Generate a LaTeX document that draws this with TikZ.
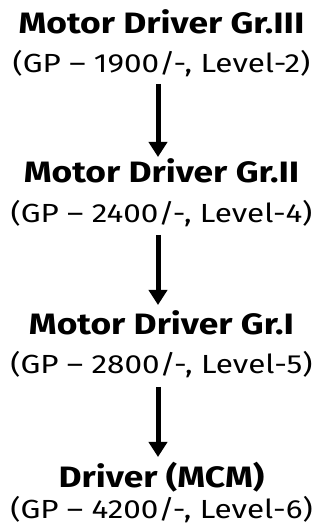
\documentclass[tikz,border=0pt]{standalone}
\usepackage{fontspec}
\setmainfont[FakeStretch=1.2]{Fira Sans}
\usetikzlibrary{arrows.meta}
\begin{document}
\begin{tikzpicture}[x=1pt,y=1pt,
  ttl/.style={anchor=base,inner sep=0pt,font=\fontsize{29.5}{30}\selectfont\bfseries},
  sub/.style={anchor=base,inner sep=0pt,font=\fontsize{26.2}{28}\selectfont},
  arr/.style={line width=5pt,-{Triangle[width=18pt,length=15pt]}}]
\useasboundingbox (0,0) rectangle (320,525);
\node[ttl] (t1) at (161.5,491) {Motor Driver Gr.III};
\node[sub] (s1) at (161.5,452.7) {(GP – 1900/-, Level-2)};
\node[ttl] (t2) at (161.5,342) {Motor Driver Gr.II};
\node[sub] (s2) at (161.5,302) {(GP – 2400/-, Level-4)};
\node[ttl] (t3) at (161.5,190) {Motor Driver Gr.I};
\node[sub] (s3) at (161.5,151) {(GP – 2800/-, Level-5)};
\node[ttl] (t4) at (161.5,37) {Driver (MCM)};
\node[sub] (s4) at (161.5,6.5) {(GP – 4200/-, Level-6)};
\draw[arr] ([xshift=-3.5pt,yshift=-11.5pt]s1.base) -- ([xshift=-3.5pt,yshift=26pt]t2.base);
\draw[arr] ([xshift=-3.5pt,yshift=-12pt]s2.base) -- ([xshift=-3.5pt,yshift=30pt]t3.base);
\draw[arr] ([xshift=-3.5pt,yshift=-13pt]s3.base) -- ([xshift=-3.5pt,yshift=31pt]t4.base);
\end{tikzpicture}
\end{document}
